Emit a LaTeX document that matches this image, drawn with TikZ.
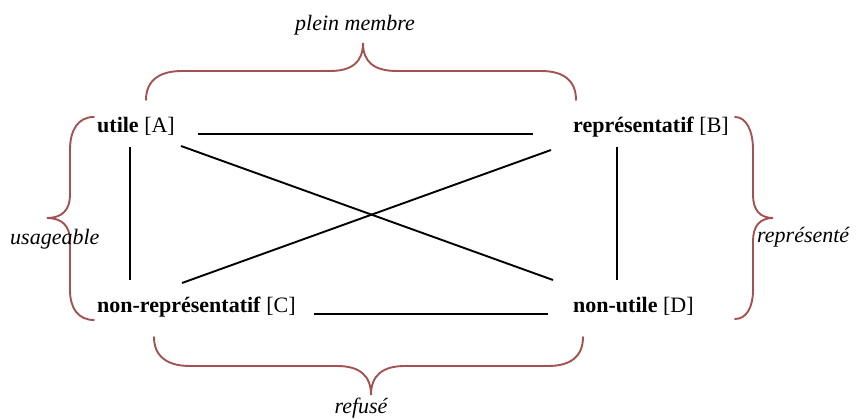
\documentclass[tikz,border=0pt]{standalone}
\usepackage{fontspec}
\setmainfont{Liberation Serif}
\definecolor{bracecol}{RGB}{163,82,82}
\begin{document}
\begin{tikzpicture}[x=1pt,y=-1pt,
  lbl/.style={inner sep=0pt,font=\fontsize{22}{26}\selectfont},
  ital/.style={inner sep=0pt,font=\fontsize{22}{26}\selectfont\itshape},
  link/.style={line width=1.9pt,black},
  bracepath/.style={line width=1.9pt,bracecol,line cap=round}]
\useasboundingbox (0,0) rectangle (863,419);
% nodes
\node[lbl,anchor=base west] (A) at (97,133) {\textbf{utile} [A]};
\node[lbl,anchor=base west] (B) at (573,133) {\textbf{représentatif} [B]};
\node[lbl,anchor=base west] (C) at (97,313) {\textbf{non-représentatif} [C]};
\node[lbl,anchor=base west] (D) at (573,313) {\textbf{non-utile} [D]};
% connectors
\draw[link] ([shift={(23,1)}]A.base east) -- ([shift={(-40,1)}]B.base west);
\draw[link] ([shift={(18,1)}]C.base east) -- ([shift={(-25,1)}]D.base west);
\draw[link] ([shift={(33,14)}]A.base west) -- ([shift={(33,-33)}]C.base west);
\draw[link] ([shift={(44,14)}]B.base west) -- ([shift={(44,-33)}]D.base west);
\draw[link] ([shift={(84,13)}]A.base west) -- ([shift={(-20,-33)}]D.base west);
\draw[link] ([shift={(85,-30)}]C.base west) -- ([shift={(-22,17)}]B.base west);
% braces
\draw[bracepath] (146,100) .. controls (146,80) and (160,71) .. (182,71) -- (330,71)
  .. controls (352,71) and (363,62) .. (363,43)
  .. controls (363,62) and (374,71) .. (397,71) -- (541,71)
  .. controls (563,71) and (576,80) .. (576,100);
\draw[bracepath] (154,337) .. controls (154,357) and (168,366) .. (190,366) -- (337,366)
  .. controls (359,366) and (371,375) .. (371,395)
  .. controls (371,375) and (383,366) .. (405,366) -- (548,366)
  .. controls (570,366) and (583,357) .. (583,337);
\draw[bracepath] (94,117) .. controls (78,117) and (70,130) .. (70,150) -- (70,195)
  .. controls (70,210) and (62,218) .. (47,218)
  .. controls (62,218) and (70,226) .. (70,241) -- (70,290)
  .. controls (70,308) and (78,320) .. (94,320);
\draw[bracepath] (735,117) .. controls (746,117) and (753,130) .. (753,150) -- (753,195)
  .. controls (753,210) and (760,218) .. (773,218)
  .. controls (760,218) and (753,226) .. (753,241) -- (753,290)
  .. controls (753,308) and (746,319) .. (735,319);
% labels
\node[ital,anchor=base] (pm) at (355,31) {plein membre};
\node[ital,anchor=base] (rf) at (361,414) {refusé};
\node[ital,anchor=base west] (us) at (10,245) {usageable};
\node[ital,anchor=base west] (rp) at (757,243) {représenté};
\end{tikzpicture}
\end{document}
